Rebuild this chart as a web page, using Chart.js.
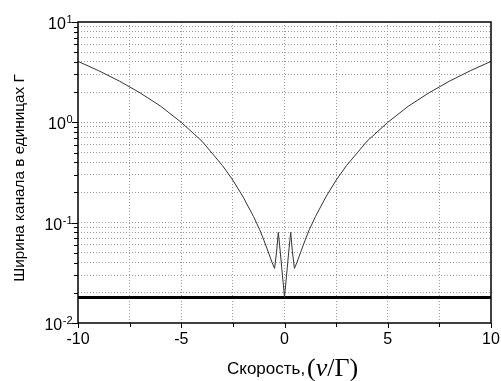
<!DOCTYPE html>
<html>
<head>
<meta charset="utf-8">
<script src="https://cdn.jsdelivr.net/npm/chart.js@4/dist/chart.umd.min.js"></script>
<style>
  html, body { margin: 0; padding: 0; background: #fff; }
  #wrap { width: 501px; height: 381px; }
</style>
</head>
<body>
<div id="wrap"><canvas id="chart" width="501" height="381"></canvas></div>
<script>
// velocity (in units of Gamma)
const speeds = [-10, -9, -8, -7, -6, -5, -4, -3, -2.5, -2, -1.5, -1.2, -1.0, -0.8, -0.6, -0.48, -0.38, -0.3, -0.2, -0.1, -0.03, 0,
  0.03, 0.1, 0.2, 0.3, 0.38, 0.48, 0.6, 0.8, 1.0, 1.2, 1.5, 2, 2.5, 3, 4, 5, 6, 7, 8, 9, 10];
// channel width (in units of Gamma)
const widths = [4.05, 3.27, 2.58, 1.97, 1.45, 1.0, 0.65, 0.37, 0.265, 0.18, 0.115, 0.085, 0.067, 0.052, 0.040, 0.035, 0.052, 0.080, 0.050, 0.030, 0.021, 0.018,
  0.021, 0.030, 0.050, 0.080, 0.052, 0.035, 0.040, 0.052, 0.067, 0.085, 0.115, 0.18, 0.265, 0.37, 0.65, 1.0, 1.45, 1.97, 2.58, 3.27, 4.05];
const floorLevel = 0.018;
const floorRange = [-10, 10];

const xTickVals = [-10, -7.5, -5, -2.5, 0, 2.5, 5, 7.5, 10];
const xLabelVals = [-10, -5, 0, 5, 10];
const yDecades = [0.01, 0.1, 1, 10];
const yExponents = ["-2", "-1", "0", "1"];

const yGrid = [];
for (let d = 0; d < yDecades.length - 1; d++) {
  for (let k = 1; k <= 9; k++) yGrid.push(+(yDecades[d] * k).toPrecision(3));
}
yGrid.push(yDecades[yDecades.length - 1]);

const SANS = '"Liberation Sans", Arial, sans-serif';
const SERIF = '"Liberation Serif", "Times New Roman", serif';

const decorations = {
  id: "decorations",
  afterDraw(chart) {
    const ctx = chart.ctx;
    const a = chart.chartArea;
    const xs = chart.scales.x, ys = chart.scales.y;
    ctx.save();
    // frame
    ctx.strokeStyle = "#000";
    ctx.lineWidth = 1.5;
    ctx.strokeRect(a.left, a.top, a.right - a.left, a.bottom - a.top);

    // x ticks
    ctx.lineWidth = 1;
    xTickVals.forEach(v => {
      const px = Math.round(xs.getPixelForValue(v)) + 0.5;
      const len = xLabelVals.includes(v) ? 5 : 4;
      ctx.beginPath();
      ctx.moveTo(px, a.bottom);
      ctx.lineTo(px, a.bottom + len);
      ctx.stroke();
    });
    // y ticks
    yGrid.forEach(v => {
      const py = Math.round(ys.getPixelForValue(v)) + 0.5;
      const len = yDecades.includes(v) ? 6 : 4;
      ctx.beginPath();
      ctx.moveTo(a.left, py);
      ctx.lineTo(a.left - len, py);
      ctx.stroke();
    });

    // x labels
    ctx.fillStyle = "#000";
    ctx.font = "16px " + SANS;
    ctx.textAlign = "center";
    ctx.textBaseline = "alphabetic";
    xLabelVals.forEach(v => {
      ctx.fillText(String(v), xs.getPixelForValue(v), a.bottom + 21);
    });

    // y labels 10^n
    yDecades.forEach((v, i) => {
      const py = ys.getPixelForValue(v);
      ctx.font = "16px " + SANS;
      const w1 = ctx.measureText("10").width;
      ctx.font = "11px " + SANS;
      const w2 = ctx.measureText(yExponents[i]).width;
      const x0 = 72 - w1 - w2;
      ctx.textAlign = "left";
      ctx.font = "16px " + SANS;
      ctx.fillText("10", x0, py + 7);
      ctx.font = "11px " + SANS;
      ctx.fillText(yExponents[i], x0 + w1 + 0.5, py + 1);
    });

    // y title
    ctx.save();
    ctx.translate(24, 178);
    ctx.rotate(-Math.PI / 2);
    ctx.font = "15.3px " + SANS;
    ctx.textAlign = "center";
    ctx.fillText("Ширина канала в единицах Г", 0, 0);
    ctx.restore();

    // x title
    ctx.textAlign = "left";
    ctx.font = "17px " + SANS;
    const t1 = "Скорость,";
    ctx.fillText(t1, 227, 374);
    let x = 307;
    const parts = [["(", "26px " + SERIF], ["ν", "italic 26px " + SERIF], ["/", "26px " + SERIF], ["Γ", "26px " + SERIF], [")", "26px " + SERIF]];
    parts.forEach(([s, f]) => {
      ctx.font = f;
      ctx.fillText(s, x, 376);
      x += ctx.measureText(s).width;
    });
    ctx.restore();
  }
};

new Chart(document.getElementById("chart").getContext("2d"), {
  type: "line",
  data: {
    datasets: [
      {
        data: speeds.map((s, i) => ({ x: s, y: widths[i] })),
        borderColor: "#333",
        borderWidth: 1,
        pointRadius: 0,
        tension: 0
      },
      {
        data: floorRange.map(s => ({ x: s, y: floorLevel })),
        borderColor: "#000",
        borderWidth: 3,
        pointRadius: 0
      }
    ]
  },
  options: {
    responsive: false,
    animation: false,
    events: [],
    layout: { padding: { top: 22, right: 10, left: 0, bottom: 0 } },
    plugins: { legend: { display: false }, tooltip: { enabled: false } },
    scales: {
      x: {
        type: "linear",
        min: -10,
        max: 10,
        afterBuildTicks: s => { s.ticks = xTickVals.map(v => ({ value: v })); },
        afterFit: s => { s.height = 58; },
        ticks: { display: false },
        grid: {
          drawTicks: false,
          lineWidth: 1,
          color: c => (c.tick && Math.abs(c.tick.value) === 10) ? "rgba(0,0,0,0)" : "#999"
        },
        border: { display: false, dash: [1, 2] }
      },
      y: {
        type: "logarithmic",
        min: 0.01,
        max: 10,
        afterBuildTicks: s => { s.ticks = yGrid.map(v => ({ value: v })); },
        afterFit: s => { s.width = 78; },
        ticks: { display: false },
        grid: {
          drawTicks: false,
          lineWidth: 1,
          color: c => (c.tick && (c.tick.value === 0.01 || c.tick.value === 10)) ? "rgba(0,0,0,0)" : "#999"
        },
        border: { display: false, dash: [1, 2] }
      }
    }
  },
  plugins: [decorations]
});
</script>
</body>
</html>
